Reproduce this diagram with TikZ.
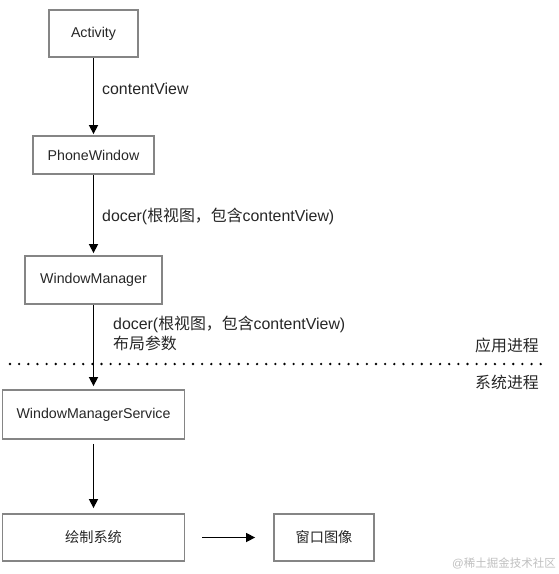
\documentclass[tikz,border=0pt]{standalone}
\usepackage{fontspec}
\setmainfont{Liberation Sans}
\newfontfamily\cjk{Noto Sans CJK SC}
\usetikzlibrary{arrows.meta}

\begin{document}
\begin{tikzpicture}[x=1pt, y=-1pt,
  box/.style={draw=black!48, line width=1.8pt, inner sep=0pt, text=black!85,
    font=\fontsize{14.2}{16}\selectfont},
  arr/.style={-{Triangle[length=9pt,width=9pt]}, line width=1.5pt},
  lab/.style={anchor=west, inner sep=0pt, text=black!85, align=left,
    font=\fontsize{15.9}{20}\selectfont}]
\useasboundingbox (0,0) rectangle (558,574);

\node[box, minimum width=89pt, minimum height=47pt] (act) at (93.5,33.5) {Activity};
\node[box, minimum width=121pt, minimum height=38pt] (phone) at (93.5,155) {PhoneWindow};
\node[box, minimum width=137pt, minimum height=48pt] (wm) at (93.5,280) {WindowManager};
\node[box, minimum width=182pt, minimum height=49pt] (wms) at (93.5,414.5) {WindowManagerService};
\node[box, minimum width=182pt, minimum height=47pt] (render) at (93.5,537.5) {\cjk 绘制系统};
\node[box, minimum width=100pt, minimum height=47pt] (image) at (324,537.5) {\cjk 窗口图像};

\draw[arr, shorten >=1pt] (act) -- (phone);
\draw[arr, shorten >=2pt] (phone) -- (wm);
\draw[arr, shorten >=3pt] (wm) -- (wms);
\draw[arr, shorten <=4pt, shorten >=5pt] (wms) -- (render);
\draw[arr, shorten <=17pt, shorten >=18pt] (render) -- (image);

\node[lab] (lab1) at (102,89) {contentView};
\node[lab] (lab2) at (102,216) {docer({\cjk 根视图，包含}contentView)};
\node[lab] (lab3) at (113,333) {docer({\cjk 根视图，包含}contentView)\\{\cjk 布局参数}};

\coordinate (lineL) at (10,364);
\coordinate (lineR) at (546,364);
\draw[line width=2.6pt, line cap=round, dash pattern=on 0pt off 9.15pt] (lineL) -- (lineR);
\node[lab, anchor=east] (app) at (539,345) {\cjk 应用进程};
\node[lab, anchor=east] (sys) at (539,382) {\cjk 系统进程};

\node[anchor=east, inner sep=0pt, text=black!25, font=\fontsize{11.5}{14}\selectfont] (mark) at (556,563) {@{\cjk 稀土掘金技术社区}};
\end{tikzpicture}
\end{document}
